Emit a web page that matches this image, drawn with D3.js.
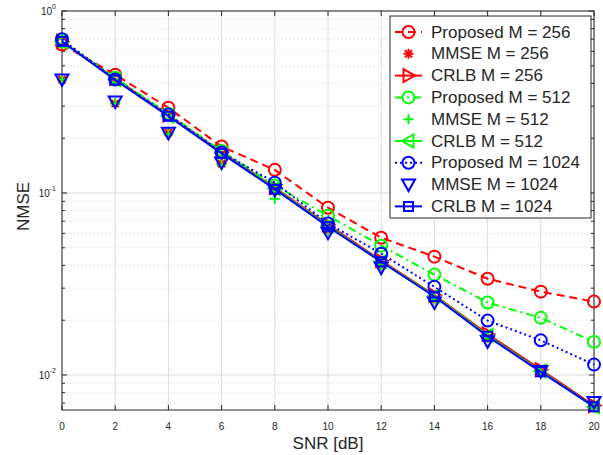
<!DOCTYPE html>
<html lang="en">
<head>
  <meta charset="UTF-8">
  <title>NMSE vs SNR</title>
  <script src="https://d3js.org/d3.v7.min.js"></script>
  <style>
    body { margin: 0; background: white; }
    text { font-family: "Liberation Sans", Arial, Helvetica, sans-serif; fill: #262626; }
    .grid-major { stroke: #dcdcdc; stroke-width: 1; }
    .grid-minor { stroke: #cfcfcf; stroke-width: 1; stroke-dasharray: 1,3; }
    .axis-line { stroke: #262626; stroke-width: 1; fill: none; }
    .tick-label { font-size: 10px; }
    .axis-title { font-size: 17px; }
    .legend-text { font-size: 17px; }
  </style>
</head>
<body>
  <svg width="603" height="455"></svg>
  <script>
    // SNR values (x axis)
    var snr = [0, 2, 4, 6, 8, 10, 12, 14, 16, 18, 20];
    var xTicks = [0, 2, 4, 6, 8, 10, 12, 14, 16, 18, 20];
    var yTicks = [1, 0.1, 0.01];
    var yTickExp = ["0", "-1", "-2"];

    // NMSE values
    var propM256 = [0.655, 0.447, 0.294, 0.180, 0.134, 0.083, 0.0568, 0.0447, 0.0338, 0.0287, 0.0253];
    var mmseM256 = [0.42, 0.31, 0.215, 0.145, 0.105, 0.062, 0.040, 0.026, 0.0160, 0.0105, 0.0068];
    var crlbM256 = [0.68, 0.425, 0.268, 0.168, 0.107, 0.067, 0.0425, 0.0275, 0.0168, 0.0107, 0.0068];
    var propM512 = [0.68, 0.43, 0.272, 0.170, 0.110, 0.075, 0.0513, 0.0356, 0.0250, 0.0206, 0.0152];
    var mmseM512 = [0.42, 0.31, 0.21, 0.142, 0.093, 0.062, 0.040, 0.026, 0.0160, 0.0104, 0.0066];
    var crlbM512 = [0.68, 0.42, 0.265, 0.166, 0.106, 0.066, 0.0420, 0.0272, 0.0165, 0.0105, 0.0067];
    var propM1024 = [0.70, 0.42, 0.27, 0.167, 0.114, 0.068, 0.0464, 0.0305, 0.0199, 0.0155, 0.0114];
    var mmseM1024 = [0.42, 0.318, 0.214, 0.147, 0.104, 0.0605, 0.0389, 0.025, 0.0153, 0.0105, 0.0071];
    var crlbM1024 = [0.68, 0.418, 0.264, 0.165, 0.105, 0.0653, 0.0419, 0.0270, 0.0163, 0.0104, 0.0067];

    var seriesNames = ["Proposed M = 256", "MMSE M = 256", "CRLB M = 256",
                       "Proposed M = 512", "MMSE M = 512", "CRLB M = 512",
                       "Proposed M = 1024", "MMSE M = 1024", "CRLB M = 1024"];
    var seriesValues = [propM256, mmseM256, crlbM256, propM512, mmseM512, crlbM512, propM1024, mmseM1024, crlbM1024];

    // styles per series
    var styles = [
      { color: "#ff0000", dash: "8,5", marker: "circle", line: true },
      { color: "#ff0000", dash: null, marker: "star", line: false },
      { color: "#ff0000", dash: null, marker: "right", line: true },
      { color: "#00ff00", dash: "8,4,2,4", marker: "circle", line: true },
      { color: "#00ff00", dash: null, marker: "plus", line: false },
      { color: "#00ff00", dash: null, marker: "left", line: true },
      { color: "#0000ff", dash: "2,3", marker: "circle", line: true },
      { color: "#0000ff", dash: null, marker: "down", line: false },
      { color: "#0000ff", dash: null, marker: "square", line: true }
    ];

    var svg = d3.select("svg");
    var pLeft = 62, pRight = 594, pTop = 11, pBottom = 410;

    var x = d3.scaleLinear().domain([0, 20]).range([pLeft, pRight]);
    var y = d3.scaleLog().domain([0.00642, 1]).range([pBottom, pTop]);

    // minor y values
    var minorY = [];
    [-3, -2, -1].forEach(function (e) {
      for (var k = 2; k <= 9; k++) {
        var v = k * Math.pow(10, e);
        if (v > y.domain()[0] && v < 1) minorY.push(v);
      }
    });

    var grid = svg.append("g");
    grid.selectAll(".gm").data(minorY).enter().append("line")
      .attr("class", "grid-minor")
      .attr("x1", pLeft).attr("x2", pRight)
      .attr("y1", d => y(d)).attr("y2", d => y(d));
    grid.selectAll(".gx").data(xTicks).enter().append("line")
      .attr("class", "grid-major")
      .attr("x1", d => x(d)).attr("x2", d => x(d))
      .attr("y1", pTop).attr("y2", pBottom);
    grid.selectAll(".gy").data(yTicks).enter().append("line")
      .attr("class", "grid-major")
      .attr("x1", pLeft).attr("x2", pRight)
      .attr("y1", d => y(d)).attr("y2", d => y(d));

    // axes box with inward ticks
    var axes = svg.append("g");
    axes.append("rect").attr("class", "axis-line")
      .attr("x", pLeft).attr("y", pTop).attr("width", pRight - pLeft).attr("height", pBottom - pTop);

    xTicks.forEach(function (t) {
      axes.append("line").attr("class", "axis-line")
        .attr("x1", x(t)).attr("x2", x(t)).attr("y1", pBottom).attr("y2", pBottom - 5);
      axes.append("line").attr("class", "axis-line")
        .attr("x1", x(t)).attr("x2", x(t)).attr("y1", pTop).attr("y2", pTop + 5);
      axes.append("text").attr("class", "tick-label")
        .attr("x", x(t)).attr("y", pBottom + 20)
        .attr("text-anchor", "middle").text(t);
    });
    yTicks.forEach(function (t, i) {
      axes.append("line").attr("class", "axis-line")
        .attr("x1", pLeft).attr("x2", pLeft + 5).attr("y1", y(t)).attr("y2", y(t));
      axes.append("line").attr("class", "axis-line")
        .attr("x1", pRight).attr("x2", pRight - 5).attr("y1", y(t)).attr("y2", y(t));
      var lbl = axes.append("text").attr("class", "tick-label")
        .attr("x", pLeft - 6).attr("y", y(t) + 4)
        .attr("text-anchor", "end");
      lbl.append("tspan").text("10");
      lbl.append("tspan").attr("dy", -6).style("font-size", "7px").text(yTickExp[i]);
    });
    minorY.forEach(function (t) {
      axes.append("line").attr("class", "axis-line")
        .attr("x1", pLeft).attr("x2", pLeft + 3).attr("y1", y(t)).attr("y2", y(t));
      axes.append("line").attr("class", "axis-line")
        .attr("x1", pRight).attr("x2", pRight - 3).attr("y1", y(t)).attr("y2", y(t));
    });

    svg.append("text").attr("class", "axis-title")
      .attr("x", x(10)).attr("y", 449)
      .attr("text-anchor", "middle").text("SNR [dB]");
    svg.append("text").attr("class", "axis-title")
      .attr("transform", "translate(29,206.5) rotate(-90)")
      .attr("text-anchor", "middle").text("NMSE");

    function markerPath(type) {
      var p = d3.path();
      if (type === "circle") {
        p.arc(0, 0, 6, 0, 2 * Math.PI);
      } else if (type === "square") {
        p.rect(-4.5, -4.5, 9, 9);
      } else if (type === "down") {
        p.moveTo(-6.5, -5); p.lineTo(6.5, -5); p.lineTo(0, 6.5); p.closePath();
      } else if (type === "right") {
        p.moveTo(-5, -6.5); p.lineTo(6.5, 0); p.lineTo(-5, 6.5); p.closePath();
      } else if (type === "left") {
        p.moveTo(5, -6.5); p.lineTo(-6.5, 0); p.lineTo(5, 6.5); p.closePath();
      } else if (type === "plus") {
        p.moveTo(-5, 0); p.lineTo(5, 0); p.moveTo(0, -5); p.lineTo(0, 5);
      } else if (type === "star") {
        p.moveTo(-5, 0); p.lineTo(5, 0); p.moveTo(0, -5); p.lineTo(0, 5);
        p.moveTo(-3.6, -3.6); p.lineTo(3.6, 3.6); p.moveTo(-3.6, 3.6); p.lineTo(3.6, -3.6);
      }
      return p.toString();
    }

    var line = d3.line().x(d => x(d[0])).y(d => y(d[1]));
    var plot = svg.append("g");

    seriesValues.forEach(function (vals, i) {
      var st = styles[i];
      var pts = snr.map(function (s, j) { return [s, vals[j]]; });
      var g = plot.append("g");
      if (st.line) {
        g.append("path").datum(pts)
          .attr("d", line)
          .attr("fill", "none")
          .attr("stroke", st.color)
          .attr("stroke-width", 2)
          .attr("stroke-dasharray", st.dash);
      }
      g.selectAll(".m").data(pts).enter().append("path")
        .attr("d", markerPath(st.marker))
        .attr("transform", d => "translate(" + x(d[0]) + "," + y(d[1]) + ")")
        .attr("fill", "none")
        .attr("stroke", st.color)
        .attr("stroke-width", 2);
    });

    // legend
    var lg = svg.append("g");
    lg.append("rect")
      .attr("x", 390).attr("y", 16).attr("width", 201).attr("height", 202)
      .attr("fill", "white").attr("stroke", "#262626").attr("stroke-width", 1);
    seriesNames.forEach(function (name, i) {
      var st = styles[i];
      var cy = 32 + i * 21.8;
      if (st.line) {
        lg.append("line")
          .attr("x1", 395).attr("x2", 422).attr("y1", cy).attr("y2", cy)
          .attr("stroke", st.color).attr("stroke-width", 2)
          .attr("stroke-dasharray", st.dash);
      }
      lg.append("path")
        .attr("d", markerPath(st.marker))
        .attr("transform", "translate(408.5," + cy + ")")
        .attr("fill", "none").attr("stroke", st.color).attr("stroke-width", 2);
      lg.append("text").attr("class", "legend-text")
        .attr("x", 431).attr("y", cy)
        .attr("dominant-baseline", "central")
        .text(name);
    });
  </script>
</body>
</html>
